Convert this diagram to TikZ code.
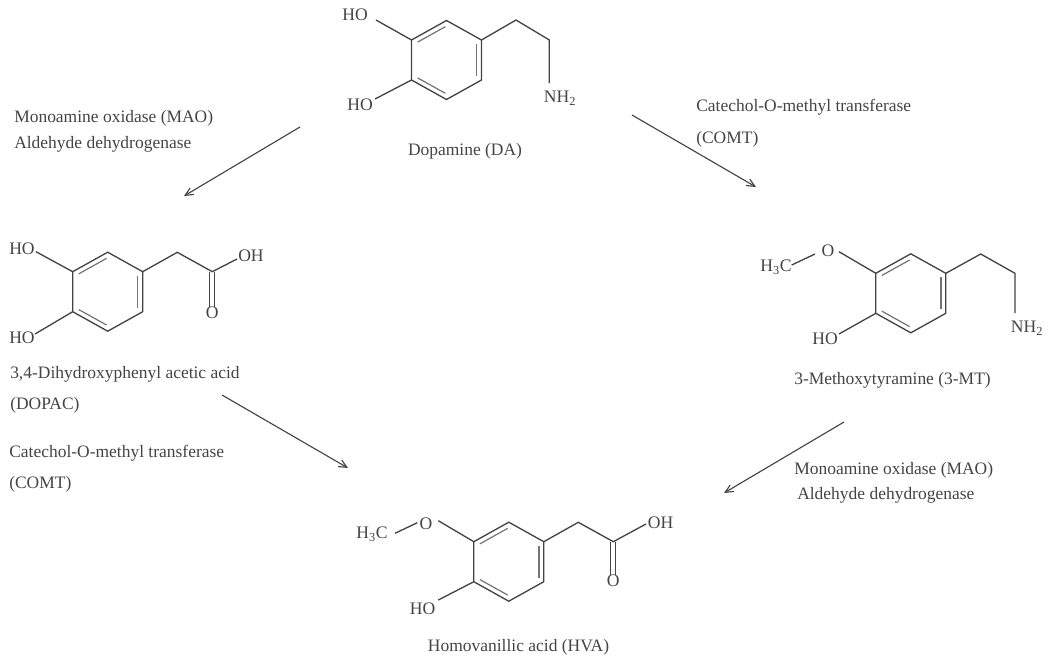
\documentclass[tikz,border=0pt]{standalone}
\usepackage{fontspec}
\setmainfont{Liberation Serif}
\usetikzlibrary{calc,arrows.meta}
\definecolor{inkgray}{HTML}{444444}
\tikzset{
    bond/.style={draw=inkgray,line width=1pt},
    inner bond/.style={draw=inkgray!75,line width=0.9pt,shorten >=1pt,shorten <=1pt},
    step arrow/.style={draw=inkgray,line width=0.85pt,-{Straight Barb[length=6pt,width=8pt,angle'=50]}},
    atom/.style={text=inkgray,font=\fontsize{13.2}{14}\selectfont,inner sep=0pt},
    caption/.style={text=inkgray,font=\fontsize{13.1}{14}\selectfont,inner sep=0pt},
    caption left/.style={caption,anchor=west},
}
% ring corners are #1a ... #1f, clockwise from upper left
\newcommand{\benzene}[3]{
    \coordinate (#1m) at (#2,#3);
    \coordinate (#1a) at ($(#1m)+(-35,-20)$);
    \coordinate (#1b) at ($(#1m)+(0,-39.5)$);
    \coordinate (#1c) at ($(#1m)+(35,-20)$);
    \coordinate (#1d) at ($(#1m)+(35,20)$);
    \coordinate (#1e) at ($(#1m)+(0,39.5)$);
    \coordinate (#1f) at ($(#1m)+(-35,20)$);
    \draw[bond,line join=miter] (#1a) -- (#1b) -- (#1c) -- (#1d) -- (#1e) -- (#1f) -- cycle;
    \draw[inner bond] ($(#1m)!0.86!(#1a)$) -- ($(#1m)!0.86!(#1b)$);
    \draw[inner bond] ($(#1m)!0.86!(#1c)$) -- ($(#1m)!0.86!(#1d)$);
    \draw[inner bond] ($(#1m)!0.86!(#1e)$) -- ($(#1m)!0.86!(#1f)$);
}
\begin{document}
\begin{tikzpicture}[x=0.75pt,y=-0.75pt]
    \useasboundingbox (0,0) rectangle (1050,661);

    % dopamine
    \benzene{da}{446.5}{60}
    \node[atom] (daho1) at (355,15) {HO};
    \node[atom] (daho2) at (360,105) {HO};
    \node[atom] (danh) at (560,98) {NH\textsubscript{2}};
    \coordinate (dao1) at (376,20);
    \coordinate (dao2) at (375,99);
    \coordinate (dac1) at (516,20);
    \coordinate (dac2) at (549.3,40);
    \coordinate (dan) at (549.3,83);
    \draw[bond] (dao1) -- (daa);
    \draw[bond] (dao2) -- (daf);
    \draw[bond] (dac) -- (dac1) -- (dac2) -- (dan);
    \node[caption] (dalabel) at (465,151) {Dopamine (DA)};

    % DOPAC
    \benzene{dp}{107.7}{291.7}
    \node[atom] (dpho1) at (22,249) {HO};
    \node[atom] (dpho2) at (22,338) {HO};
    \node[atom] (dpoh) at (251,256) {OH};
    \node[atom] (dpo) at (212.3,313) {O};
    \coordinate (dpo1) at (36,251.7);
    \coordinate (dpo2) at (35,334);
    \coordinate (dpc1) at (177.3,252.3);
    \coordinate (dpc2) at (212.3,271.7);
    \coordinate (dpoe) at (237,259);
    \draw[bond] (dpo1) -- (dpa);
    \draw[bond] (dpo2) -- (dpf);
    \draw[bond] (dpc) -- (dpc1) -- (dpc2) -- (dpoe);
    \draw[bond] ([xshift=-2.2pt]dpc2) -- ([xshift=-2.2pt]dpc2 |- dpo.north);
    \draw[bond] ([xshift=1.6pt]dpc2) -- ([xshift=1.6pt]dpc2 |- dpo.north);
    \node[caption left] (dplabel1) at (10,374) {3,4-Dihydroxyphenyl acetic acid};
    \node[caption left] (dplabel2) at (10,405) {(DOPAC)};

    % 3-methoxytyramine
    \benzene{mt}{910.8}{293.3}
    \node[atom] (mtch) at (776,267) {H\textsubscript{3}C};
    \node[atom] (mto) at (828,250.5) {O};
    \node[atom] (mtho) at (825,339) {HO};
    \node[atom] (mtnh) at (1027,328) {NH\textsubscript{2}};
    \coordinate (mto1) at (839,251.7);
    \coordinate (mto2) at (839,334);
    \coordinate (mtc0) at (791.7,265);
    \coordinate (mtc3) at (815,254);
    \coordinate (mtc1) at (980.7,254);
    \coordinate (mtc2) at (1015,273.3);
    \coordinate (mtn) at (1015,313);
    \draw[bond] (mto1) -- (mta);
    \draw[bond] (mto2) -- (mtf);
    \draw[bond] (mtc0) -- (mtc3);
    \draw[bond] (mtc) -- (mtc1) -- (mtc2) -- (mtn);
    \node[caption] (mtlabel) at (892.5,380) {3-Methoxytyramine (3-MT)};

    % HVA
    \benzene{hv}{508.8}{561.7}
    \node[atom] (hvch) at (372,534.5) {H\textsubscript{3}C};
    \node[atom] (hvoa) at (426,523.7) {O};
    \node[atom] (hvho) at (422.7,608.3) {HO};
    \node[atom] (hvoh) at (660.7,523) {OH};
    \node[atom] (hvo) at (613.3,581) {O};
    \coordinate (hvo1) at (438.3,520.7);
    \coordinate (hvo2) at (438.3,600);
    \coordinate (hvc0) at (395,533.3);
    \coordinate (hvc3) at (417.3,522.7);
    \coordinate (hvc1) at (578.3,522.3);
    \coordinate (hvc2) at (613.3,541.7);
    \coordinate (hvoe) at (646,524);
    \draw[bond] (hvo1) -- (hva);
    \draw[bond] (hvo2) -- (hvf);
    \draw[bond] (hvc0) -- (hvc3);
    \draw[bond] (hvc) -- (hvc1) -- (hvc2) -- (hvoe);
    \draw[bond] ([xshift=-2.2pt]hvc2) -- ([xshift=-2.2pt]hvc2 |- hvo.north);
    \draw[bond] ([xshift=1.6pt]hvc2) -- ([xshift=1.6pt]hvc2 |- hvo.north);
    \node[caption] (hvlabel) at (518.5,647) {Homovanillic acid (HVA)};

    % enzymes
    \node[caption left] (mao1a) at (14,118) {Monoamine oxidase (MAO)};
    \node[caption left] (mao1b) at (14,144) {Aldehyde dehydrogenase};
    \node[caption left] (comt1a) at (696,107) {Catechol-O-methyl transferase};
    \node[caption left] (comt1b) at (696,139) {(COMT)};
    \node[caption left] (comt2a) at (9,453) {Catechol-O-methyl transferase};
    \node[caption left] (comt2b) at (9,484) {(COMT)};
    \node[caption left] (mao2a) at (794,470) {Monoamine oxidase (MAO)};
    \node[caption left] (mao2b) at (797,495) {Aldehyde dehydrogenase};

    % arrows
    \coordinate (s1) at (300,127);
    \coordinate (e1) at (184,196);
    \coordinate (s2) at (632,115);
    \coordinate (e2) at (756,187);
    \coordinate (s3) at (222,395);
    \coordinate (e3) at (348,468);
    \coordinate (s4) at (844,422);
    \coordinate (e4) at (724,493);
    \draw[step arrow] (s1) -- (e1);
    \draw[step arrow] (s2) -- (e2);
    \draw[step arrow] (s3) -- (e3);
    \draw[step arrow] (s4) -- (e4);
\end{tikzpicture}
\end{document}
